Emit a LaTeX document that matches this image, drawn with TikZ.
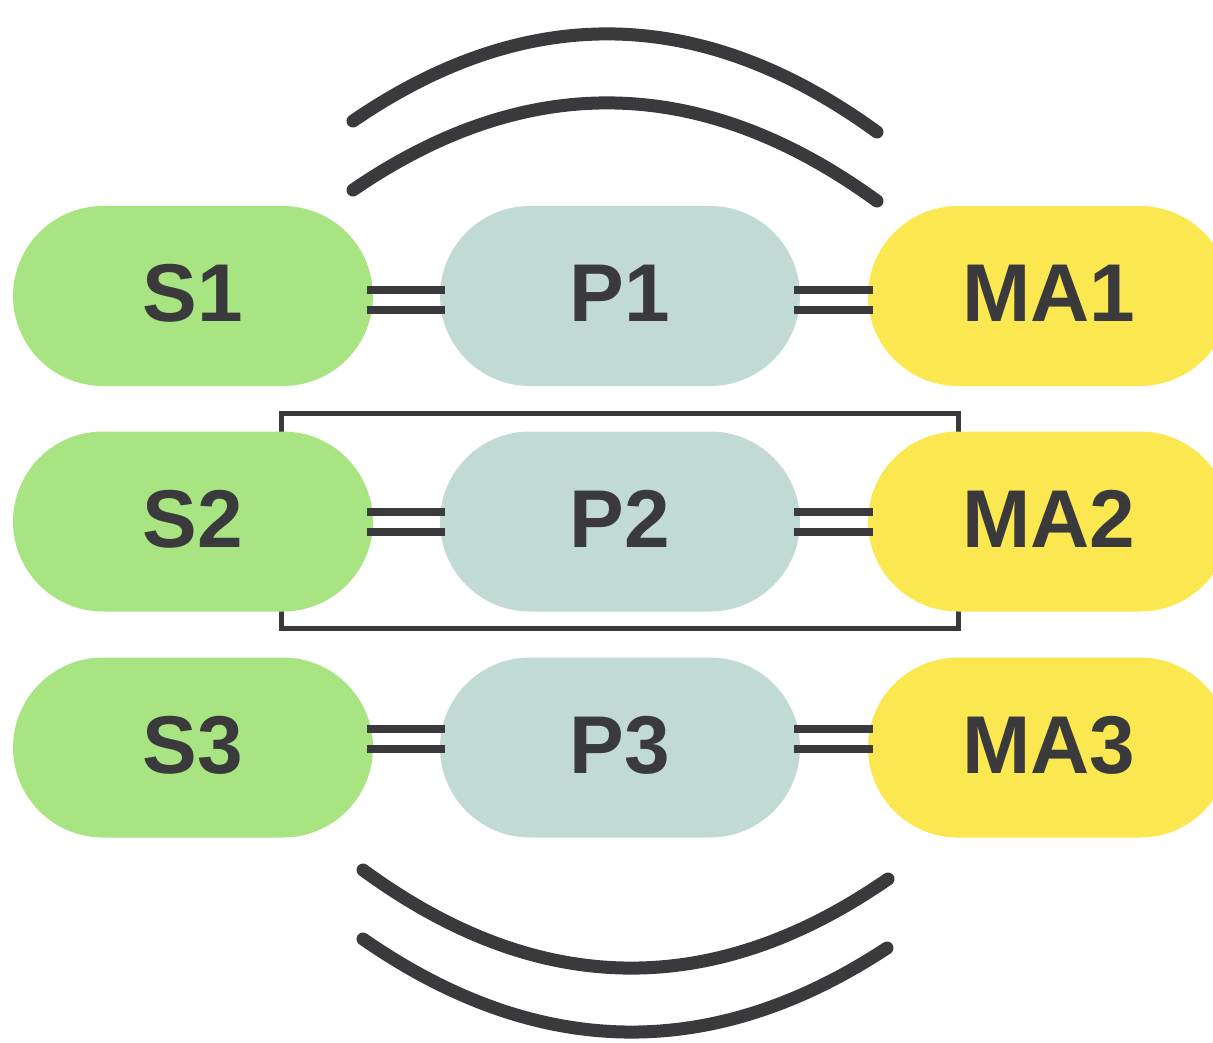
\documentclass[tikz,border=0pt]{standalone}
\usepackage{fontspec}
\setmainfont{Liberation Sans}
\usetikzlibrary{shapes.misc}
\definecolor{cgreen}{HTML}{A8E582}
\definecolor{cteal}{HTML}{C2DAD4}
\definecolor{cyellow}{HTML}{FBE74F}
\definecolor{cdark}{HTML}{3A3A3C}
\tikzset{
  pill/.style={rounded rectangle, minimum width=360pt, minimum height=180pt,
    inner sep=0pt, text=cdark, text height=59pt, text depth=8pt,
    font=\fontsize{82}{82}\selectfont\bfseries},
  sbox/.style={pill, fill=cgreen},
  pbox/.style={pill, fill=cteal},
  mabox/.style={pill, fill=cyellow, minimum width=362pt},
  bar/.style={draw=cdark, line width=8pt, shorten <=-6pt, shorten >=-5pt},
  frame/.style={draw=cdark, line width=5pt},
  wave/.style={draw=cdark, line width=13pt, line cap=round}
}
\newcommand\dbl[3]{%
  \draw[bar] ([shift={(0,#3-10)}]#1.east) -- ([shift={(0,#3-10)}]#2.west);
  \draw[bar] ([shift={(0,#3+10)}]#1.east) -- ([shift={(0,#3+10)}]#2.west);}
\begin{document}
\begin{tikzpicture}[x=1pt,y=-1pt]
\useasboundingbox (0,0) rectangle (1213,1042);
% frame around row 2 (behind nodes)
\coordinate (f1) at (281.5,413);
\coordinate (f2) at (958,628);
\draw[frame] (f1) rectangle (f2);
% nodes
\node[sbox]  (S1)  at (193,296) {S1};
\node[pbox]  (P1)  at (620,296) {P1};
\node[mabox] (MA1) at (1049,296) {MA1};
\node[sbox]  (S2)  at (193,521.5) {S2};
\node[pbox]  (P2)  at (620,521.5) {P2};
\node[mabox] (MA2) at (1049,521.5) {MA2};
\node[sbox]  (S3)  at (193,747.5) {S3};
\node[pbox]  (P3)  at (620,747.5) {P3};
\node[mabox] (MA3) at (1049,747.5) {MA3};
% double connectors
\dbl{S1}{P1}{4}
\dbl{P1}{MA1}{4}
\dbl{S2}{P2}{0}
\dbl{P2}{MA2}{0}
\dbl{S3}{P3}{-8.5}
\dbl{P3}{MA3}{-8.5}
% top arcs
\draw[wave] (353,121) .. controls (527.7,1.3) and (702.3,5) .. (877,132);
\draw[wave] (353,190) .. controls (527.7,70.3) and (702.3,74) .. (877,201);
% bottom arcs
\draw[wave] (363,870) .. controls (537.3,997.7) and (712.3,1000.7) .. (888,879);
\draw[wave] (363,939) .. controls (537.3,1060) and (712.3,1063) .. (887,948);
\end{tikzpicture}
\end{document}
